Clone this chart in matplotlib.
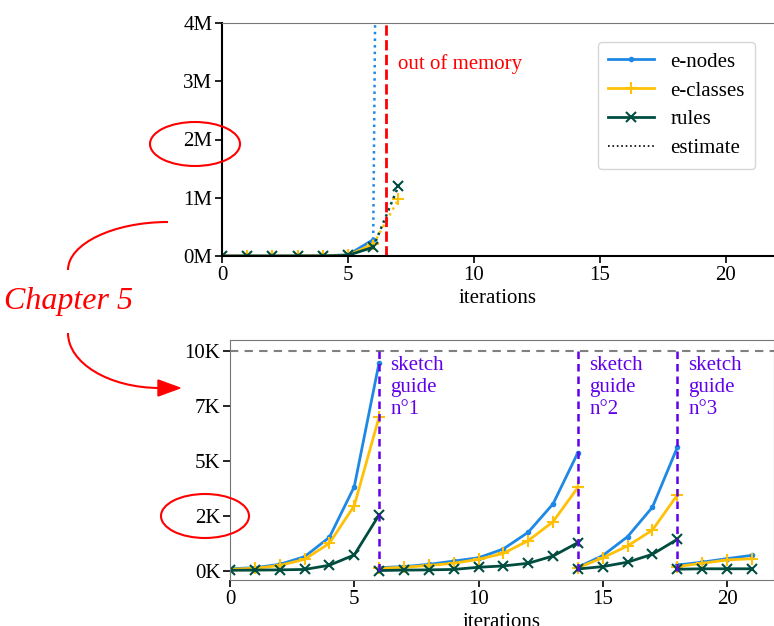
import numpy as np
import matplotlib
matplotlib.use("Agg")
import matplotlib.pyplot as plt
from matplotlib.path import Path
from matplotlib.patches import PathPatch, Ellipse, Polygon

plt.rcParams['font.family'] = ['Liberation Serif', 'DejaVu Serif']
plt.rcParams['font.size'] = 15

# top chart: run without sketch guides (blows up)
top_iters = [0, 1, 2, 3, 4, 5, 6]
top_nodes = [50, 100, 300, 1000, 3000, 20000, 280000]
top_classes = [40, 80, 250, 800, 2500, 15000, 200000]
top_rules = [20, 50, 100, 300, 1500, 12000, 150000]
est_iters = [6, 7]
est_nodes = [280000, 50000000]
est_classes = [200000, 970000]
est_rules = [150000, 1200000]
oom_at = 6.5

# bottom chart: run with sketch guides, one list per segment
seg_iters = [[0, 1, 2, 3, 4, 5, 6],
             [6, 7, 8, 9, 10, 11, 12, 13, 14],
             [14, 15, 16, 17, 18],
             [18, 19, 20, 21]]
seg_nodes = [[100, 150, 300, 650, 1530, 3830, 9470],
             [150, 200, 300, 450, 600, 1000, 1760, 3050, 5380],
             [170, 700, 1560, 2900, 5620],
             [270, 400, 560, 710]]
seg_classes = [[80, 120, 250, 530, 1260, 2970, 7000],
               [120, 170, 250, 350, 530, 800, 1380, 2240, 3800],
               [150, 600, 1140, 1860, 3450],
               [200, 350, 500, 560]]
seg_rules = [[30, 40, 50, 70, 260, 730, 2550],
             [20, 40, 50, 70, 170, 230, 350, 680, 1290],
             [90, 200, 400, 760, 1440],
             [80, 100, 100, 100]]
guides = [6, 14, 18]
guide_labels = ["sketch\nguide\nn°1", "sketch\nguide\nn°2", "sketch\nguide\nn°3"]
limit = 10000

c_nodes = "#1E88E5"
c_classes = "#FFC107"
c_rules = "#004D40"
purple = "#6200EA"

fig = plt.figure(figsize=(7.74, 6.26), dpi=100)

# ---- top ----
ax1 = fig.add_axes([222 / 774, 1 - 256 / 626, 1 - 222 / 774, 233 / 626])
ax1.plot(top_iters, top_nodes, color=c_nodes, marker=".", lw=2, ms=6, label="e-nodes")
ax1.plot(top_iters, top_classes, color=c_classes, marker="+", lw=2, ms=8, mew=1.5, label="e-classes")
ax1.plot(top_iters, top_rules, color=c_rules, marker="x", lw=2, ms=7, mew=1.5, label="rules")
ax1.plot(est_iters, est_nodes, color=c_nodes, ls=":", lw=1.8)
ax1.plot(est_iters, est_classes, color=c_classes, ls=":", lw=1.8, marker="+", ms=8, mew=1.5, markevery=[1])
ax1.plot(est_iters, est_rules, color=c_rules, ls=":", lw=1.8, marker="x", ms=7, mew=1.5, markevery=[1])
ax1.plot([], [], color="black", ls=":", lw=1.2, label="estimate")
ax1.axvline(oom_at, color="red", ls="--", lw=2)
ax1.text(oom_at + 0.5, 3.3e6, "out of memory", color="red", va="center")
ax1.set_xlim(0, (774 - 222) / 25.2)
ax1.set_ylim(0, 4e6)
ax1.set_yticks([0, 1e6, 2e6, 3e6, 4e6])
ax1.set_yticklabels(["0M", "1M", "2M", "3M", "4M"])
ax1.set_xticks([0, 5, 10, 15, 20])
ax1.set_xlabel("iterations", labelpad=3)
for s in ["left", "bottom"]:
    ax1.spines[s].set_linewidth(1.5)
    ax1.spines[s].set_color("black")
ax1.spines["top"].set_color("#777777")
ax1.spines["right"].set_visible(False)
ax1.tick_params(width=1.2, length=5, pad=2)
ax1.legend(loc="upper right", bbox_to_anchor=(0.985, 0.965), handlelength=2.2, labelspacing=0.45,
           borderpad=0.5, fontsize=15)

# ---- bottom ----
ax2 = fig.add_axes([230 / 774, 46 / 626, 1 - 230 / 774, 240 / 626])
for i in range(len(seg_iters)):
    ax2.plot(seg_iters[i], seg_nodes[i], color=c_nodes, marker=".", lw=2, ms=6)
    ax2.plot(seg_iters[i], seg_classes[i], color=c_classes, marker="+", lw=2, ms=8, mew=1.5)
    ax2.plot(seg_iters[i], seg_rules[i], color=c_rules, marker="x", lw=2, ms=7, mew=1.5)
ax2.axhline(limit, color="gray", ls="--", lw=1.5, dashes=(4, 3))
for g, lab in zip(guides, guide_labels):
    ax2.plot([g, g], [0, limit], color=purple, ls="--", lw=1.8, dashes=(3, 2))
    ax2.text(g + 0.45, 9750, lab, color=purple, va="top", ha="left", linespacing=1.2)
ax2.set_xlim(0, (774 - 230) / 24.85)
ax2.set_ylim(-410, 10500)
ax2.set_yticks([0, 2500, 5000, 7500, 10000])
ax2.set_yticklabels(["0K", "2K", "5K", "7K", "10K"])
ax2.set_xticks([0, 5, 10, 15, 20])
ax2.set_xlabel("iterations", labelpad=3)
for s in ax2.spines.values():
    s.set_color("#777777")
ax2.tick_params(width=1.2, length=5, pad=2)

# ---- annotations in pixel coordinates ----
ov = fig.add_axes([0, 0, 1, 1], facecolor="none")
ov.set_xlim(0, 774)
ov.set_ylim(626, 0)
ov.axis("off")
ov.add_patch(Ellipse((195, 144), 90, 44, fill=False, ec="red", lw=1.5))
ov.add_patch(Ellipse((205, 516), 88, 44, fill=False, ec="red", lw=1.5))
curve1 = Path([(168, 222), (113, 222), (68, 244), (68, 270)],
              [Path.MOVETO, Path.CURVE4, Path.CURVE4, Path.CURVE4])
curve2 = Path([(68, 333), (68, 363), (109, 388), (160, 388)],
              [Path.MOVETO, Path.CURVE4, Path.CURVE4, Path.CURVE4])
ov.add_patch(PathPatch(curve1, fill=False, ec="red", lw=1.5))
ov.add_patch(PathPatch(curve2, fill=False, ec="red", lw=1.5))
ov.add_patch(Polygon([(158, 380), (158, 396), (180, 388)], closed=True, fc="red", ec="red"))
ov.text(68, 301, "Chapter 5", color="red", fontsize=23, style="italic", ha="center", va="center")

fig.savefig("out.png", dpi=100)
